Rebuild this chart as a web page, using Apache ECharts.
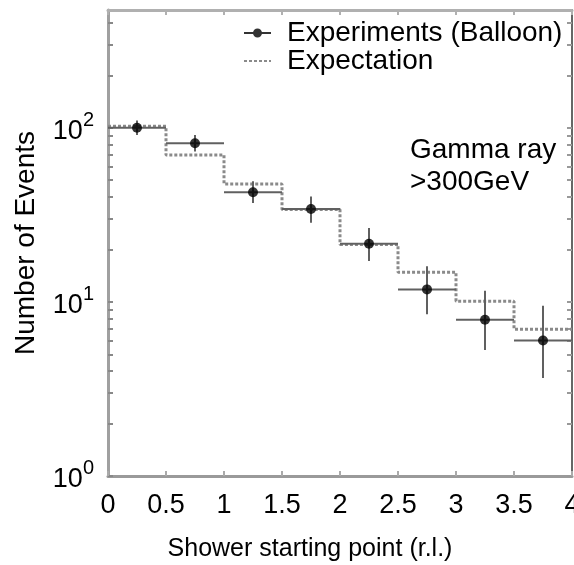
<!DOCTYPE html>
<html><head><meta charset="utf-8">
<script src="https://cdn.jsdelivr.net/npm/echarts@6/dist/echarts.min.js"></script>
<style>html,body{margin:0;padding:0;background:#fff}#c{width:574px;height:565px}</style>
</head><body><div id="c"></div>
<script>
// ---- data ----
const binEdges = [0, 0.5, 1, 1.5, 2, 2.5, 3, 3.5, 4];
const expectation = [102, 69.8, 47.5, 33.9, 21.4, 14.8, 10.1, 6.96];
const expX = [0.25, 0.75, 1.25, 1.75, 2.25, 2.75, 3.25, 3.75];
const expY = [100, 81.5, 42.6, 34.2, 21.6, 11.8, 7.9, 6.0];
const expLow = [91, 73, 37, 28.5, 17.2, 8.5, 5.3, 3.65];
const expHigh = [110, 91, 49.3, 40.3, 26.6, 16.0, 11.6, 9.5];
const yTickValues = [1, 2, 3, 4, 5, 6, 7, 8, 9, 10, 20, 30, 40, 50, 60, 70, 80, 90, 100, 200, 300, 400];
const seriesNames = ['Experiments (Balloon)', 'Expectation'];
const noteLines = ['Gamma ray', '>300GeV'];
const xAxisName = 'Shower starting point (r.l.)';
const yAxisName = 'Number of Events';

const FONT = 'Liberation Sans, Arial, sans-serif';
const chart = echarts.init(document.getElementById('c'), null, {renderer: 'canvas'});

const stepData = binEdges.map((e, i) => [e, expectation[Math.min(i, expectation.length - 1)]]);
const pointData = expX.map((x, i) => [x, expY[i]]);
const errData = expX.map((x, i) => [x, expY[i], expLow[i], expHigh[i], binEdges[i], binEdges[i + 1]]);

function yLabel(v) {
  const e = Math.log10(v);
  if (Math.abs(e - Math.round(e)) > 1e-6) return '';
  return '{b|10}{s|' + Math.round(e) + '}';
}

chart.setOption({
  animation: false,
  backgroundColor: '#fff',
  grid: {left: 108, right: 2, top: 10, bottom: 89, containLabel: false, outerBoundsMode: 'none'},
  legend: {
    orient: 'vertical', left: 243, top: 19, itemGap: 0, padding: 0,
    itemWidth: 27, itemHeight: 12,
    textStyle: {fontFamily: FONT, fontSize: 28, color: '#000', padding: [0, 0, 0, 11]},
    data: [
      {name: seriesNames[0], icon: 'path://M0,5H27V7H0Z M9,6A4.5,4.5 0 1 1 18,6A4.5,4.5 0 1 1 9,6Z'},
      {name: seriesNames[1], itemStyle: {opacity: 0}}
    ]
  },
  xAxis: [{
    type: 'value', min: 0, max: 4, interval: 0.5, position: 'bottom',
    name: xAxisName, nameLocation: 'middle', nameGap: 61,
    nameTextStyle: {fontFamily: FONT, fontSize: 25, color: '#000', padding: [0, 60, 0, 0]},
    axisLine: {show: true, onZero: false, lineStyle: {color: '#9a9a9a', width: 3}},
    axisTick: {show: true, inside: true, length: 5, lineStyle: {color: '#aaa', width: 2}},
    axisLabel: {fontFamily: FONT, fontSize: 27, color: '#000', margin: 16},
    splitLine: {show: false}
  }, {
    type: 'value', min: 0, max: 4, interval: 0.5, position: 'top',
    axisLine: {show: true, onZero: false, lineStyle: {color: '#b0b0b0', width: 3}},
    axisTick: {show: true, inside: true, length: 5, lineStyle: {color: '#b0b0b0', width: 2}},
    axisLabel: {show: false}, splitLine: {show: false}
  }],
  yAxis: [{
    type: 'log', logBase: 10, min: 1, max: 475, position: 'left',
    name: yAxisName, nameLocation: 'middle', nameGap: 68, nameRotate: 90,
    nameTextStyle: {fontFamily: FONT, fontSize: 28, color: '#000'},
    axisLine: {show: true, onZero: false, lineStyle: {color: '#a0a0a0', width: 3}},
    axisTick: {show: true, inside: true, length: 5, customValues: yTickValues, lineStyle: {color: '#888', width: 2}},
    axisLabel: {
      formatter: yLabel, margin: 14, fontFamily: FONT, color: '#000',
      rich: {
        b: {fontFamily: FONT, fontSize: 27, color: '#000', padding: [8, 0, 0, 0]},
        s: {fontFamily: FONT, fontSize: 20, color: '#000', verticalAlign: 'top'}
      }
    },
    splitLine: {show: false}, minorTick: {show: false}
  }, {
    type: 'log', logBase: 10, min: 1, max: 475, position: 'right',
    axisLine: {show: true, onZero: false, lineStyle: {color: '#666', width: 2}},
    axisTick: {show: true, inside: true, length: 5, customValues: yTickValues, lineStyle: {color: '#999', width: 2}},
    axisLabel: {show: false}, splitLine: {show: false}
  }],
  series: [{
    name: seriesNames[1], type: 'line', step: 'end', data: stepData,
    xAxisIndex: 1, yAxisIndex: 1, showSymbol: false, symbol: 'none',
    lineStyle: {color: '#8a8a8a', width: 3, type: [3, 2]}, itemStyle: {color: '#8a8a8a'}, z: 2
  }, {
    name: 'errors', type: 'custom', data: errData, xAxisIndex: 0, yAxisIndex: 0,
    encode: {x: 0, y: 1}, z: 3,
    renderItem: function (params, api) {
      const x = api.value(0), y = api.value(1), lo = api.value(2), hi = api.value(3);
      const x0 = api.value(4), x1 = api.value(5);
      const pL = api.coord([x0, y]), pR = api.coord([x1, y]);
      const pT = api.coord([x, hi]), pB = api.coord([x, lo]);
      return {type: 'group', children: [
        {type: 'line', shape: {x1: pL[0], y1: pL[1], x2: pR[0], y2: pR[1]}, style: {stroke: '#606060', lineWidth: 2}},
        {type: 'line', shape: {x1: pT[0], y1: pT[1], x2: pB[0], y2: pB[1]}, style: {stroke: '#606060', lineWidth: 2}}
      ]};
    }
  }, {
    name: seriesNames[0], type: 'scatter', data: pointData, xAxisIndex: 0, yAxisIndex: 0,
    symbol: 'circle', symbolSize: 10, itemStyle: {color: '#000'}, z: 4
  }],
  graphic: [
    {type: 'text', left: 410, top: 136, style: {text: noteLines[0], font: '28px ' + FONT, fill: '#000'}},
    {type: 'text', left: 410, top: 168, style: {text: noteLines[1], font: '28px ' + FONT, fill: '#000'}}
  ]
});
</script></body></html>
